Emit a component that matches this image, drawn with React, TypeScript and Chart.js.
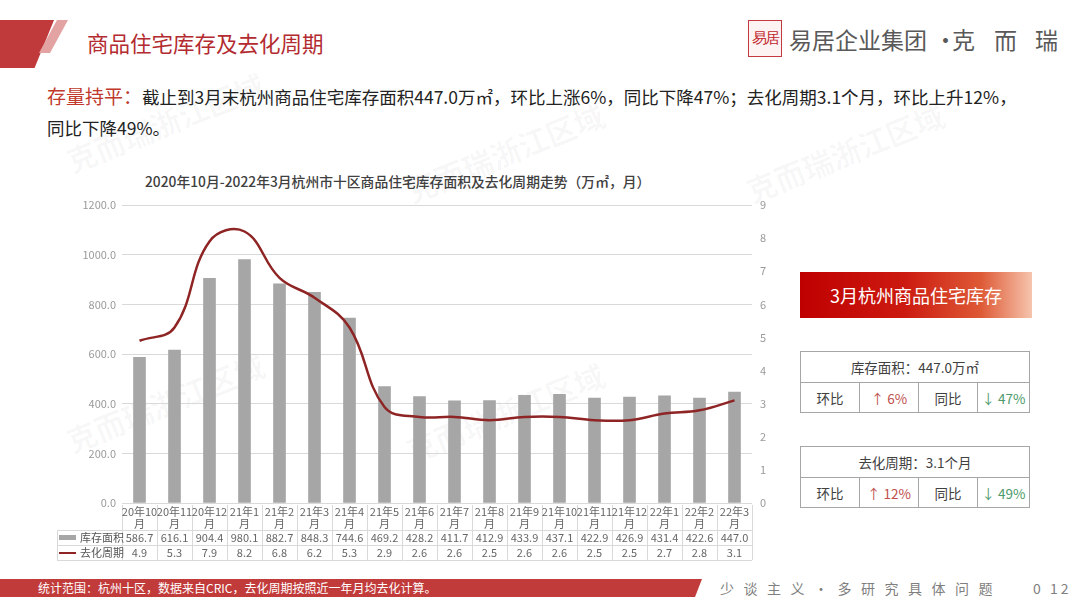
import React, { useEffect, useRef } from "react";
import { Chart, registerables } from "chart.js";

Chart.register(...registerables);

const categories = [
  "20年10月", "20年11月", "20年12月", "21年1月", "21年2月", "21年3月",
  "21年4月", "21年5月", "21年6月", "21年7月", "21年8月", "21年9月",
  "21年10月", "21年11月", "21年12月", "22年1月", "22年2月", "22年3月",
];
const inventoryArea = [
  586.7, 616.1, 904.4, 980.1, 882.7, 848.3, 744.6, 469.2, 428.2,
  411.7, 412.9, 433.9, 437.1, 422.9, 426.9, 431.4, 422.6, 447.0,
];
const destockCycle = [
  4.9, 5.3, 7.9, 8.2, 6.8, 6.2, 5.3, 2.9, 2.6, 2.6, 2.5, 2.6, 2.6, 2.5, 2.5, 2.7, 2.8, 3.1,
];
const seriesNames = ["库存面积", "去化周期"];
const leftAxisRange = [0, 1200, 200];
const rightAxisRange = [0, 9, 1];

const BAR_COLOR = "#a6a6a6";
const LINE_COLOR = "#8e2424";
const GRID = "#d9d9d9";
const FONT = '"Noto Sans CJK SC", "Noto Sans", sans-serif';

const dataTablePlugin = {
  id: "dataTable",
  afterDraw(chart: any) {
    const ctx = chart.ctx;
    const area = chart.chartArea;
    const xs = chart.scales.x;
    const n = categories.length;
    const colW = (area.right - area.left) / n;
    const top = area.bottom + 2;
    const hdrBottom = top + 25;
    const r1 = hdrBottom + 15;
    const r2 = r1 + 15;
    const legendLeft = 2;
    ctx.save();
    ctx.strokeStyle = GRID;
    ctx.lineWidth = 1;
    for (let i = 0; i <= n; i++) {
      const x = Math.round(area.left + i * colW) + 0.5;
      ctx.beginPath();
      ctx.moveTo(x, top);
      ctx.lineTo(x, r2);
      ctx.stroke();
    }
    [hdrBottom, r1, r2].forEach((y) => {
      ctx.beginPath();
      ctx.moveTo(legendLeft, Math.round(y) + 0.5);
      ctx.lineTo(area.right, Math.round(y) + 0.5);
      ctx.stroke();
    });
    ctx.beginPath();
    ctx.moveTo(legendLeft + 0.5, hdrBottom);
    ctx.lineTo(legendLeft + 0.5, r2);
    ctx.stroke();

    ctx.fillStyle = "#666";
    ctx.font = `11px ${FONT}`;
    ctx.textAlign = "center";
    ctx.textBaseline = "middle";
    categories.forEach((c, i) => {
      const cx = xs.getPixelForValue(i);
      const idx = c.indexOf("月");
      ctx.fillText(c.slice(0, idx), cx, top + 7);
      ctx.fillText("月", cx, top + 19);
      ctx.fillText(inventoryArea[i].toFixed(1), cx, hdrBottom + 7.5);
      ctx.fillText(destockCycle[i].toFixed(1), cx, r1 + 7.5);
    });
    ctx.fillStyle = BAR_COLOR;
    ctx.fillRect(legendLeft + 2, hdrBottom + 5, 17, 5);
    ctx.strokeStyle = LINE_COLOR;
    ctx.lineWidth = 2;
    ctx.beginPath();
    ctx.moveTo(legendLeft + 2, r1 + 8);
    ctx.lineTo(legendLeft + 19, r1 + 8);
    ctx.stroke();
    ctx.fillStyle = "#555";
    ctx.textAlign = "left";
    ctx.fillText(seriesNames[0], legendLeft + 23, hdrBottom + 7.5);
    ctx.fillText(seriesNames[1], legendLeft + 23, r1 + 7.5);
    ctx.restore();
  },
};

function ChartBox() {
  const ref = useRef<HTMLCanvasElement | null>(null);
  useEffect(() => {
    if (!ref.current) return;
    const chart = new Chart(ref.current, {
      type: "bar",
      data: {
        labels: categories,
        datasets: [
          {
            type: "line",
            label: seriesNames[1],
            data: destockCycle,
            yAxisID: "y1",
            borderColor: LINE_COLOR,
            borderWidth: 2.5,
            pointRadius: 0,
            tension: 0.4,
            order: 0,
          } as any,
          {
            type: "bar",
            label: seriesNames[0],
            data: inventoryArea,
            yAxisID: "y",
            backgroundColor: BAR_COLOR,
            barThickness: 12,
            order: 1,
          },
        ],
      },
      plugins: [dataTablePlugin],
      options: {
        responsive: false,
        animation: false,
        layout: { padding: { top: 40, bottom: 62, left: 0, right: 0 } },
        plugins: { legend: { display: false }, tooltip: { enabled: false }, title: { display: false } },
        scales: {
          x: { display: false, offset: true },
          y: {
            position: "left",
            min: leftAxisRange[0],
            max: leftAxisRange[1],
            ticks: {
              stepSize: leftAxisRange[2],
              color: "#9a9a9a",
              font: { size: 11, family: FONT },
              padding: 6,
              callback: (v: any) => Number(v).toFixed(1),
            },
            grid: { color: GRID, drawTicks: false },
            border: { display: false },
            afterFit: (s: any) => { s.width = 67; },
          },
          y1: {
            position: "right",
            min: rightAxisRange[0],
            max: rightAxisRange[1],
            ticks: {
              stepSize: rightAxisRange[2],
              color: "#9a9a9a",
              font: { size: 11, family: FONT },
              padding: 8,
            },
            grid: { display: false, drawTicks: false },
            border: { display: false },
            afterFit: (s: any) => { s.width = 33; },
          },
        },
      } as any,
    });
    return () => chart.destroy();
  }, []);
  return <canvas ref={ref} width={730} height={400} style={{ position: "absolute", left: 55, top: 165, width: 730, height: 400 }} />;
}

const abs = (l: number, t: number, extra: any = {}) => ({ position: "absolute" as const, left: l, top: t, ...extra });

function Watermark({ x, y }: { x: number; y: number }) {
  return (
    <div style={abs(x, y, { fontSize: 30, fontWeight: 700, color: "rgba(0,0,0,0.035)", transform: "rotate(-22deg)", whiteSpace: "nowrap", pointerEvents: "none" })}>
      克而瑞浙江区域
    </div>
  );
}

function StatTable({ top, head, mom, yoy }: { top: number; head: React.ReactNode; mom: string; yoy: string }) {
  const cell = { border: "1px solid #a6a6a6", textAlign: "center" as const, height: 29, padding: 0 };
  return (
    <table style={abs(800, top, { borderCollapse: "collapse", width: 230, fontSize: 13.5, color: "#404040", fontFamily: FONT })}>
      <tbody>
        <tr><td colSpan={4} style={{ ...cell, height: 30 }}>{head}</td></tr>
        <tr>
          <td style={{ ...cell, width: 58 }}>环比</td>
          <td style={{ ...cell, width: 58, color: "#c0504d" }}>↑ {mom}</td>
          <td style={{ ...cell, width: 58 }}>同比</td>
          <td style={{ ...cell, color: "#4e9a6a" }}>↓ {yoy}</td>
        </tr>
      </tbody>
    </table>
  );
}

export default function App() {
  const logoText = { fontSize: 23, color: "#595959", whiteSpace: "nowrap", lineHeight: "32px" };
  return (
    <div style={{ position: "fixed", left: 0, top: 0, width: 1080, height: 608, background: "#fff", overflow: "hidden", fontFamily: FONT }}>
      <Watermark x={60} y={380} />
      <Watermark x={400} y={390} />
      <Watermark x={400} y={130} />
      <Watermark x={740} y={130} />
      <Watermark x={60} y={100} />
      <div style={abs(0, 20, { width: 54, height: 48, background: "#c0393b", clipPath: "polygon(0 0, 100% 0, 64% 100%, 0 100%)" })} />
      <div style={abs(39, 20, { width: 29, height: 33, background: "#e3a3a3", clipPath: "polygon(62% 0, 100% 0, 38% 100%, 0 100%)" })} />
      <div style={abs(87, 29, { fontSize: 21.5, color: "#b32b30", whiteSpace: "nowrap", lineHeight: "28px" })}>商品住宅库存及去化周期</div>
      <div style={abs(748, 20, { width: 34, height: 37, border: "1px solid #c23a3f", background: "#fdf3f3", boxSizing: "border-box", display: "flex", alignItems: "center", justifyContent: "center", color: "#c0282d", fontSize: 15, fontFamily: "serif", letterSpacing: -2 })}>易居</div>
      <div style={abs(789, 23, logoText)}>易居企业集团</div>
      <div style={abs(934, 23, logoText)}>·</div>
      <div style={abs(952, 23, logoText)}>克</div>
      <div style={abs(994, 23, logoText)}>而</div>
      <div style={abs(1035, 23, logoText)}>瑞</div>
      <div style={abs(47, 80, { fontSize: 17.5, color: "#222", lineHeight: "31px", whiteSpace: "nowrap" })}>
        <span style={{ color: "#c0392b", fontSize: 19 }}>存量持平：</span>
        截止到3月末杭州商品住宅库存面积447.0万㎡，环比上涨6%，同比下降47%；去化周期3.1个月，环比上升12%，
        <br />同比下降49%。
      </div>
      <div style={abs(145, 171, { fontSize: 13.8, color: "#404040", whiteSpace: "nowrap", fontWeight: 500 })}>
        2020年10月-2022年3月杭州市十区商品住宅库存面积及去化周期走势（万㎡，月）
      </div>
      <ChartBox />
      <div style={abs(800, 272, { width: 232, height: 46, background: "linear-gradient(to right, #bf0000 0%, #cc1a10 45%, #de5a36 78%, #f6c4ad 100%)", color: "#fff", fontSize: 18, display: "flex", alignItems: "center", justifyContent: "center" })}>3月杭州商品住宅库存</div>
      <StatTable top={351} head={<span>库存面积：447.0万㎡</span>} mom="6%" yoy="47%" />
      <StatTable top={446} head={<span>去化周期：3.1个月</span>} mom="12%" yoy="49%" />
      <div style={abs(0, 579, { width: 702, height: 18, background: "#c23b3b", clipPath: "polygon(0 0, 100% 0, calc(100% - 7px) 100%, 0 100%)" })} />
      <div style={abs(38, 579, { fontSize: 12, color: "#fff", lineHeight: "18px", whiteSpace: "nowrap" })}>统计范围：杭州十区，数据来自CRIC，去化周期按照近一年月均去化计算。</div>
      <div style={abs(720, 578, { fontSize: 14, color: "#7f7f7f", letterSpacing: 9.5, whiteSpace: "nowrap", lineHeight: "20px" })}>少谈主义·多研究具体问题</div>
      <div style={abs(1033, 578, { fontSize: 14, color: "#7f7f7f", letterSpacing: 3, whiteSpace: "nowrap", lineHeight: "20px" })}>0 12</div>
    </div>
  );
}
